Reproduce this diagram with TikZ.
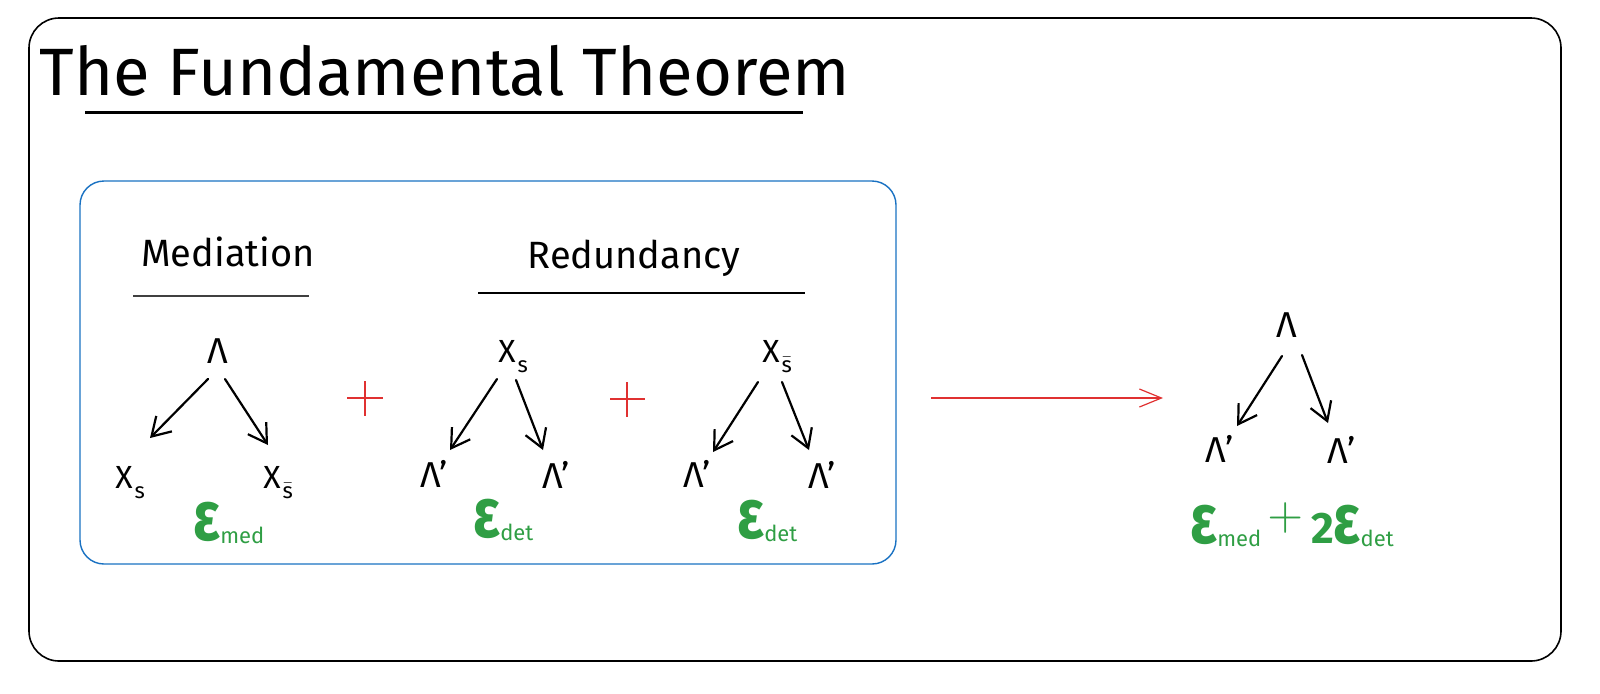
\documentclass[tikz,border=0pt]{standalone}
\usepackage{fontspec}
\setmainfont{Fira Sans}
\usetikzlibrary{arrows.meta,calc}
\definecolor{exgreen}{HTML}{2F9E44}
\definecolor{exred}{HTML}{E03131}
\definecolor{exblue}{HTML}{1971C2}
\newcommand\epsbig{{\fontsize{28}{28}\selectfont\bfseries\scalebox{1}[1.25]{ε}}}
\newcommand\esub[1]{\raisebox{-1.5pt}{\fontsize{11}{11}\selectfont #1}}
\newcommand\xsub[1]{\hspace{1pt}\raisebox{-5pt}{\fontsize{11}{11}\selectfont #1}}
\newcommand\sbar{$\bar{\mbox{s}}$}
\tikzset{
  lbl/.style={inner sep=0pt, font=\fontsize{18}{18}\selectfont},
  xlbl/.style={inner sep=0pt, font=\fontsize{16}{16}\selectfont},
  elbl/.style={inner sep=0pt, text=exgreen},
  head/.style={inner sep=0pt, font=\fontsize{19}{19}\selectfont},
  arr/.style={line width=1.1pt, line cap=round, -{Straight Barb[length=9pt,width=11pt,line width=1.1pt]}},
  redarr/.style={exred, line width=0.6pt, -{Straight Barb[length=11pt,width=9pt,line width=0.6pt]}},
  redline/.style={exred, line width=0.6pt},
}
\begin{document}
\begin{tikzpicture}[x=0.5pt,y=-0.5pt]
\useasboundingbox (0,0) rectangle (1600,693);
% outer frame
\draw[line width=0.8pt, rounded corners=15pt] (29,18) rectangle (1561,661);
% title
\node[anchor=base west, inner sep=0pt, font=\fontsize{33.5}{33.5}\selectfont] (title) at (39,95) {The Fundamental Theorem};
\draw[line width=1.5pt] (85,112) -- (803,112);
% blue group box
\draw[exblue, line width=0.7pt, rounded corners=12pt] (80,181) rectangle (896,564);
% headings
\node[head, anchor=base] (hmed) at (228,266) {Mediation};
\draw[line width=1pt, black!75] (133,296) -- (309,296);
\node[head, anchor=base] (hred) at (634,268) {Redundancy};
\draw[line width=0.8pt] (478,293) -- (805,293);
% tree A
\node[lbl, anchor=base] (aT) at (218,363) {Λ};
\node[xlbl, anchor=base west] (aL) at (115,488) {X\xsub{s}};
\node[xlbl, anchor=base west] (aR) at (263,488) {X\xsub{\sbar}};
\node[elbl, anchor=base west] (aE) at (193,540) {\epsbig\esub{med}};
\draw[arr] ($(aT.base)+(-10,16)$) -- ($(aL.base west)+(35,-50)$);
\draw[arr] ($(aT.base)+(7,16)$) -- ($(aR.base west)+(5,-43)$);
% plus 1
\draw[redline] (347,398) -- (383,398) (365,381) -- (365,416);
% tree B
\node[xlbl, anchor=base west] (bT) at (498,362) {X\xsub{s}};
\node[lbl, anchor=base west] (bL) at (420,487) {Λ'};
\node[lbl, anchor=base west] (bR) at (542,488) {Λ'};
\node[elbl, anchor=base west] (bE) at (473,537) {\epsbig\esub{det}};
\draw[arr] ($(bT.base west)+(-1,17)$) -- ($(bL.base west)+(30,-37)$);
\draw[arr] ($(bT.base west)+(18,18)$) -- ($(bR.base west)+(1,-38)$);
% plus 2
\draw[redline] (610,399) -- (645,399) (627,382) -- (627,417);
% tree C
\node[xlbl, anchor=base west] (cT) at (762,362) {X\xsub{\sbar}};
\node[lbl, anchor=base west] (cL) at (683,487) {Λ'};
\node[lbl, anchor=base west] (cR) at (808,488) {Λ'};
\node[elbl, anchor=base west] (cE) at (737,538) {\epsbig\esub{det}};
\draw[arr] ($(cT.base west)+(-4,20)$) -- ($(cL.base west)+(30,-35)$);
\draw[arr] ($(cT.base west)+(20,20)$) -- ($(cR.base west)+(1,-38)$);
% red arrow
\coordinate (rs) at (931,398);
\coordinate (re) at (1163,398);
\draw[redarr] (rs) -- (re);
% tree D
\node[lbl, anchor=base] (dT) at (1287,337) {Λ};
\node[lbl, anchor=base west] (dL) at (1205,462) {Λ'};
\node[lbl, anchor=base west] (dR) at (1327,463) {Λ'};
\node[elbl, anchor=base west] (dE) at (1190,543) {\epsbig\esub{med}\hspace{3pt}\raisebox{7pt}{\scalebox{2.3}{$+$}}\hspace{4pt}{\fontsize{22}{22}\selectfont\bfseries 2}\epsbig\esub{det}};
\draw[arr] ($(dT.base)+(-5,19)$) -- ($(dL.base west)+(32,-36)$);
\draw[arr] ($(dT.base)+(15,18)$) -- ($(dR.base west)+(1,-40)$);
\end{tikzpicture}
\end{document}
